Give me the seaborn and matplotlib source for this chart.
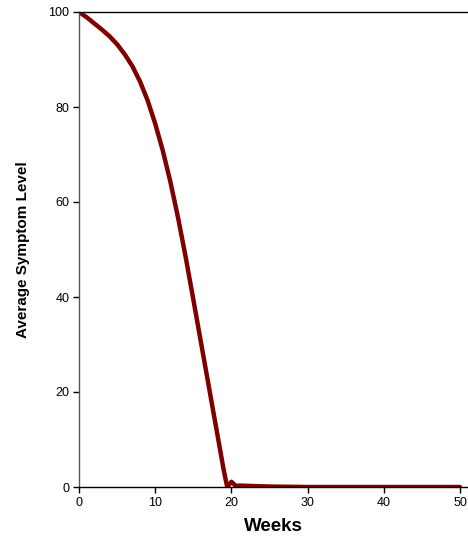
import numpy as np
import pandas as pd
import matplotlib
matplotlib.use("Agg")
import matplotlib.pyplot as plt
import seaborn as sns

weeks = [0, 1, 2, 3, 4, 5, 6, 7, 8, 9, 10, 11, 12, 13, 14, 15, 16, 17, 18, 19,
         19.45, 20, 20.6, 21, 25, 30, 35, 40, 45, 50]
symptoms = [100, 98.9, 97.6, 96.3, 94.9, 93.2, 91.1, 88.6, 85.4, 81.4, 76.5, 70.8,
            64.2, 56.7, 48.4, 39.5, 30.5, 21.5, 12.5, 3.5,
            0.0, 1.1, 0.2, 0.3, 0.1, 0.0, 0.0, 0.0, 0.0, 0.0]
xticks = [0, 10, 20, 30, 40, 50]
yticks = [0, 20, 40, 60, 80, 100]

df = pd.DataFrame({"Weeks": weeks, "Symptom": symptoms})

sns.set_style("white")
plt.rcParams['font.family'] = ['Liberation Sans', 'DejaVu Sans']

fig = plt.figure(figsize=(4.68, 5.38), dpi=100)
ax = fig.add_axes([79 / 468, 51 / 538, 1 - 79 / 468, (487 - 12) / 538])

sns.lineplot(data=df, x="Weeks", y="Symptom", ax=ax, color="#800000",
             linewidth=3.2, sort=False, estimator=None)

ax.set_xlim(0, 51.05)
ax.set_ylim(0, 100)
ax.set_xticks(xticks)
ax.set_yticks(yticks)
ax.tick_params(axis="both", which="major", direction="out", length=4, width=1,
               color="black", labelsize=9, labelcolor="black", bottom=True, left=True, pad=3)
for side in ["top", "bottom", "left"]:
    ax.spines[side].set_visible(True)
    ax.spines[side].set_color("black")
    ax.spines[side].set_linewidth(1.0)
ax.spines["left"].set_color("#555555")
ax.spines["right"].set_visible(False)

ax.set_xlabel("Weeks", fontsize=13.5, fontweight="bold", labelpad=7, color="black")
ax.set_ylabel("Average Symptom Level", fontsize=11, fontweight="bold", labelpad=13, color="black")

fig.savefig("out.png", dpi=100)
